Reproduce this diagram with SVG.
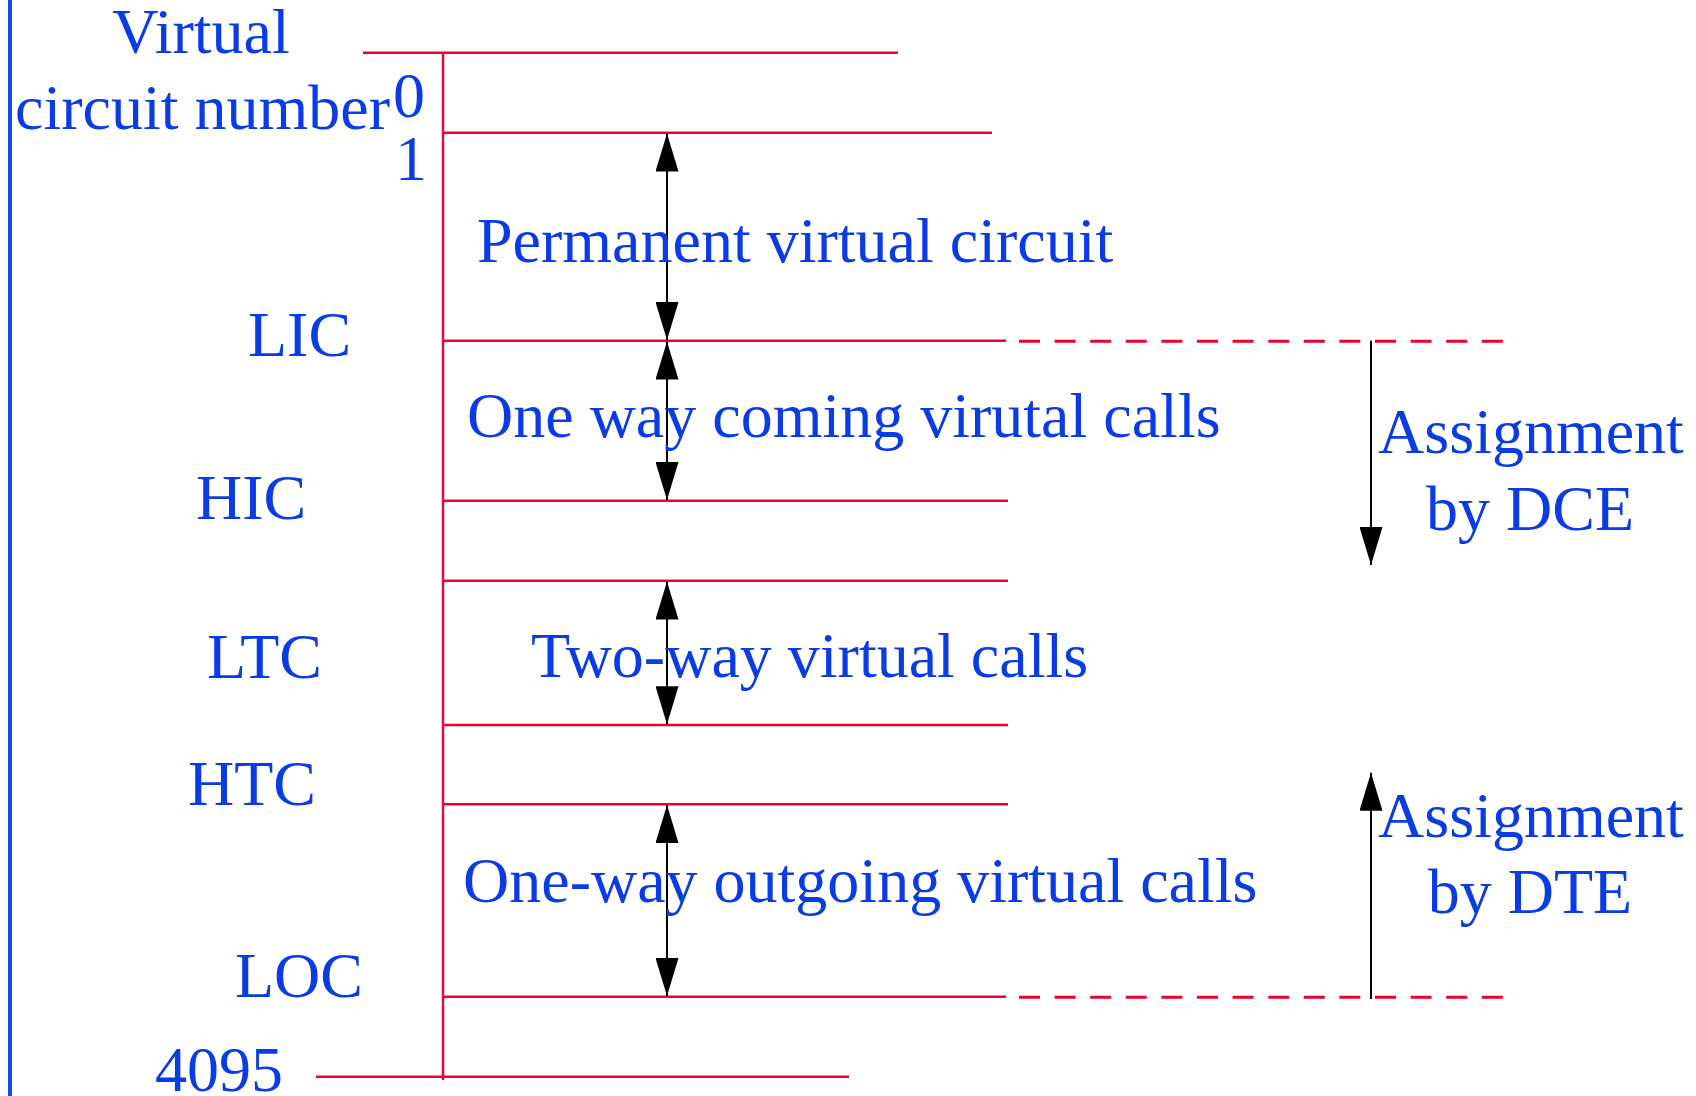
<svg xmlns="http://www.w3.org/2000/svg" width="1696" height="1096" viewBox="0 0 1696 1096">
<style>
.t{font-family:"Liberation Serif","Times New Roman",serif;font-size:64px;fill:#0a3ce6}
.r{stroke:#f00030;stroke-width:2.4;fill:none}
.d{stroke:#f00030;stroke-width:3;fill:none;stroke-dasharray:21 14.6}
.a{stroke:#000;stroke-width:2;fill:none}
</style>
<defs>
<marker id="ah" viewBox="0 0 38 23" refX="38" refY="11.5" markerWidth="38" markerHeight="23" markerUnits="userSpaceOnUse" orient="auto-start-reverse">
<path d="M0,0 L38,11.5 L0,23 Z" fill="#000"/>
</marker>
</defs>
<rect width="1696" height="1096" fill="#fff"/>
<line x1="10" y1="0" x2="10" y2="1096" stroke="#1448f0" stroke-width="4"/>
<g id="axis">
<line class="r" x1="443" y1="52.7" x2="443" y2="1080"/>
<line class="r" x1="363" y1="52.7" x2="898" y2="52.7"/>
<line class="r" x1="443" y1="132.7" x2="992" y2="132.7"/>
<line class="r" x1="443" y1="340.7" x2="1006" y2="340.7"/>
<line class="d" x1="1019" y1="341.2" x2="1503" y2="341.2"/>
<line class="r" x1="443" y1="500.7" x2="1008" y2="500.7"/>
<line class="r" x1="443" y1="580.7" x2="1008" y2="580.7"/>
<line class="r" x1="443" y1="725" x2="1008" y2="725"/>
<line class="r" x1="443" y1="804.3" x2="1008" y2="804.3"/>
<line class="r" x1="443" y1="996.7" x2="1006" y2="996.7"/>
<line class="d" x1="1019" y1="997.2" x2="1503" y2="997.2"/>
<line class="r" x1="316" y1="1076.7" x2="849" y2="1076.7"/>
</g>
<g id="connectors">
<line class="a" x1="667" y1="133.5" x2="667" y2="340" marker-start="url(#ah)" marker-end="url(#ah)"/>
<line class="a" x1="667" y1="341.5" x2="667" y2="500" marker-start="url(#ah)" marker-end="url(#ah)"/>
<line class="a" x1="667" y1="581.5" x2="667" y2="724.3" marker-start="url(#ah)" marker-end="url(#ah)"/>
<line class="a" x1="667" y1="805" x2="667" y2="996" marker-start="url(#ah)" marker-end="url(#ah)"/>
<line class="a" x1="1371" y1="340.7" x2="1371" y2="565" marker-end="url(#ah)"/>
<line class="a" x1="1371" y1="999" x2="1371" y2="772.7" marker-end="url(#ah)"/>
</g>
<g id="labels">
<text class="t" x="201" y="52.7" text-anchor="middle">Virtual</text>
<text class="t" x="15" y="129.3">circuit number</text>
<text class="t" x="393" y="116.7">0</text>
<text class="t" x="395" y="180">1</text>
<text class="t" x="248" y="356">LIC</text>
<text class="t" x="196" y="519">HIC</text>
<text class="t" x="207" y="678">LTC</text>
<text class="t" x="188" y="805">HTC</text>
<text class="t" x="235" y="997">LOC</text>
<text class="t" x="155" y="1091">4095</text>
</g>
<g id="regions">
<text class="t" x="477" y="262">Permanent virtual circuit</text>
<text class="t" x="467" y="437">One way coming virutal calls</text>
<text class="t" x="531" y="677">Two-way virtual calls</text>
<text class="t" x="463" y="902">One-way outgoing virtual calls</text>
</g>
<g id="dce">
<text class="t" x="1531" y="453" text-anchor="middle">Assignment</text>
<text class="t" x="1530" y="529.5" text-anchor="middle">by DCE</text>
</g>
<g id="dte">
<text class="t" x="1531" y="836.7" text-anchor="middle">Assignment</text>
<text class="t" x="1530" y="912.7" text-anchor="middle">by DTE</text>
</g>
</svg>
